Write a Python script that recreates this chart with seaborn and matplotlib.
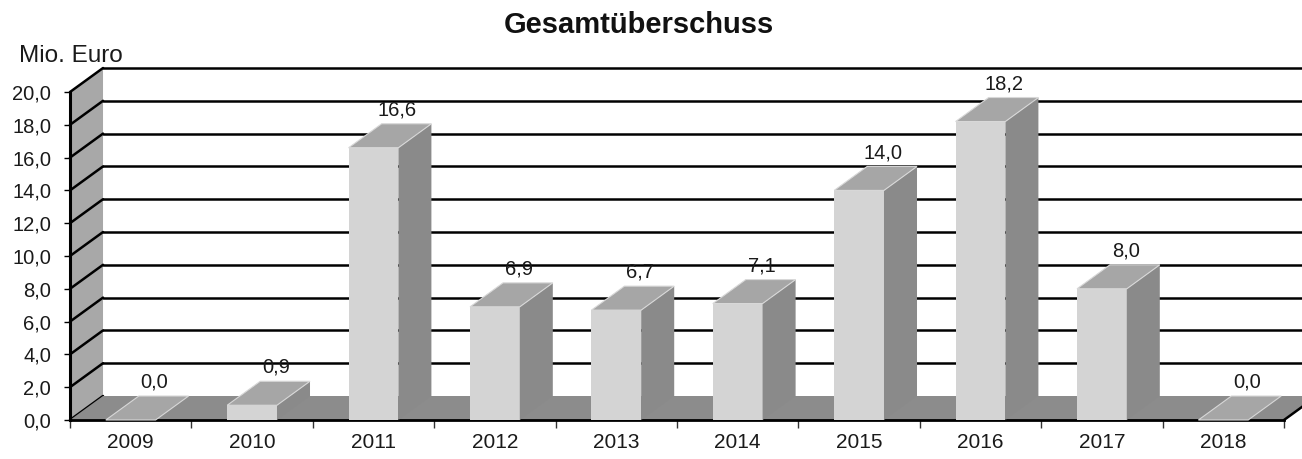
import numpy as np
import matplotlib
matplotlib.use('Agg')
import matplotlib.pyplot as plt
from matplotlib.patches import Polygon
from matplotlib.ticker import FuncFormatter
import seaborn as sns

years = ['2009', '2010', '2011', '2012', '2013', '2014', '2015', '2016', '2017', '2018']
surplus = [0.0, 0.9, 16.6, 6.9, 6.7, 7.1, 14.0, 18.2, 8.0, 0.0]
y_ticks = [0, 2, 4, 6, 8, 10, 12, 14, 16, 18, 20]

sns.set_style('white')
plt.rcParams['font.family'] = ['Liberation Sans', 'DejaVu Sans']

fig = plt.figure(figsize=(13.02, 4.59), dpi=100)
ax = fig.add_axes([70/1302, 39/459, 1214/1302, 328/459])

bw = 0.41
dx, dy = 0.272, 1.463   # depth of the fake 3d box, in data units
x_lo, x_hi = -0.5, len(years) - 0.5
y_top = y_ticks[-1]

sns.barplot(x=years, y=surplus, width=bw, color='#d4d4d4', saturation=1,
            linewidth=0, ax=ax)
bars = list(ax.patches)

# left wall + floor
ax.add_patch(Polygon([(x_lo, 0), (x_lo+dx, dy), (x_lo+dx, y_top+dy), (x_lo, y_top)],
                     fc='#a8a8a8', ec='none', zorder=1, clip_on=False))
ax.add_patch(Polygon([(x_lo, 0), (x_hi, 0), (x_hi+dx, dy), (x_lo+dx, dy)],
                     fc='#8c8c8c', ec='none', zorder=2, clip_on=False))
ax.plot([x_hi, x_hi+dx], [0, dy], color='black', lw=1.8, zorder=5, clip_on=False)

# gridlines: diagonal on the side wall, flat on the back wall
for v in y_ticks:
    ax.plot([x_lo, x_lo+dx], [v, v+dy], color='black', lw=1.8, zorder=1.8, clip_on=False)
    if v > 0:
        ax.plot([x_lo+dx, x_hi+dx+0.5], [v+dy, v+dy], color='black', lw=1.8,
                zorder=0.8, clip_on=False)

# top and side faces of the bars
for p in bars:
    p.set_zorder(4)
    x0 = p.get_x()
    x1 = x0 + p.get_width()
    h = p.get_height()
    ax.add_patch(Polygon([(x1, 0), (x1+dx, dy), (x1+dx, h+dy), (x1, h)],
                         fc='#8a8a8a', ec='none', zorder=4, clip_on=False))
    ax.add_patch(Polygon([(x0, h), (x1, h), (x1+dx, h+dy), (x0+dx, h+dy)],
                         fc='#a6a6a6', ec='#d8d8d8', lw=0.8, zorder=4.5, clip_on=False))
    ax.annotate(f'{h:.1f}'.replace('.', ','), (x0 + bw/2 + 0.72*dx, h + dy),
                xytext=(0, 10), textcoords='offset points', ha='center', va='center',
                fontsize=14.5, color='#1a1a1a', zorder=6, annotation_clip=False)

ax.set_xlim(x_lo, x_hi)
ax.set_ylim(0, y_top)
ax.set_yticks(y_ticks)
ax.yaxis.set_major_formatter(FuncFormatter(lambda v, pos: f'{v:.1f}'.replace('.', ',')))
ax.set_xticks(range(len(years)))
ax.set_xticklabels(years)
ax.set_xticks(np.arange(x_lo, x_hi + 0.01, 1), minor=True)
ax.set_xlabel('')
ax.set_ylabel('')

ax.tick_params(axis='y', left=True, length=4.5, width=1, color='black', pad=9,
               labelsize=14.5, labelcolor='#1a1a1a')
ax.tick_params(axis='x', which='major', length=0, pad=9, labelsize=15,
               labelcolor='#1a1a1a')
ax.tick_params(axis='x', which='minor', bottom=True, length=6, width=1, color='#333333')

for s in ['top', 'right']:
    ax.spines[s].set_visible(False)
ax.spines['left'].set_linewidth(2.2)
ax.spines['left'].set_color('black')
ax.spines['bottom'].set_linewidth(2)
ax.spines['bottom'].set_color('black')
ax.spines['bottom'].set_zorder(3)
ax.patch.set_alpha(0)

fig.text(639/1302, 1 - 33/459, 'Gesamtüberschuss', ha='center', va='baseline',
         fontsize=21, fontweight='bold', color='#111111')
fig.text(19/1302, 1 - 62/459, 'Mio. Euro', ha='left', va='baseline',
         fontsize=17.5, color='#1a1a1a')

fig.savefig('out.png', dpi=100)
